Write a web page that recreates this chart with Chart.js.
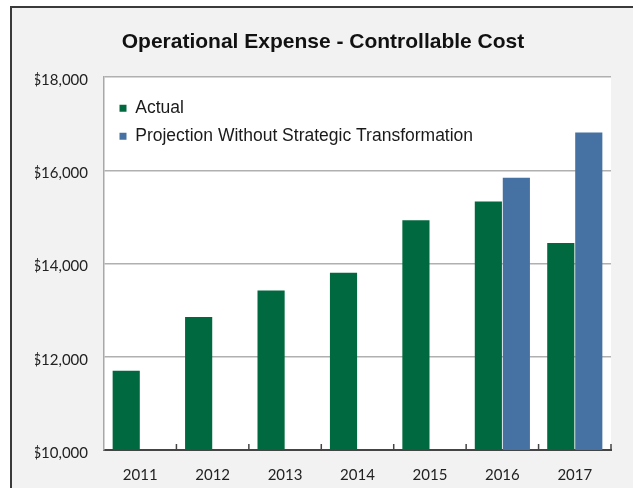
<!DOCTYPE html>
<html><head><meta charset="utf-8">
<script src="https://cdn.jsdelivr.net/npm/chart.js@4/dist/chart.umd.min.js"></script>
<style>
html,body{margin:0;padding:0;background:#fff;}
#frame{position:absolute;left:10px;top:6px;width:623px;height:482px;background:#f2f2f2;border-left:2px solid #3a3a3a;border-top:2px solid #3a3a3a;box-sizing:border-box;}
#wrap{position:absolute;left:0;top:0;width:633px;height:488px;}
</style></head><body>
<div id="frame"></div>
<div id="wrap"><canvas id="c" width="633" height="488"></canvas></div>
<script>
const categories = ['2011','2012','2013','2014','2015','2016','2017'];
const actual = [11700, 12850, 13420, 13800, 14930, 15330, 14440];
const projection = [null, null, null, null, null, 15840, 16810];
const yTicks = [10000, 12000, 14000, 16000, 18000];
const titleText = 'Operational Expense - Controllable Cost';
const seriesNames = ['Actual', 'Projection Without Strategic Transformation'];

const plotBg = {
  id: 'plotBg',
  beforeDraw(chart) {
    const {ctx, chartArea: a} = chart;
    ctx.save(); ctx.fillStyle = '#ffffff';
    ctx.fillRect(a.left, a.top, a.width, a.height);
    ctx.restore();
  }
};
const legendShift = {
  id: 'legendShift',
  afterLayout(chart) {
    const l = chart.legend, a = chart.chartArea;
    if (l) {
      const w = l.width, h = l.height;
      l.left = a.left + 5; l.right = l.left + w;
      l.top = a.top + 12; l.bottom = l.top + h;
    }
  }
};
const innerTicks = {
  id: 'innerTicks',
  afterDraw(chart) {
    const xs = chart.scales.x, ctx = chart.ctx;
    const half = (xs.getPixelForValue(1) - xs.getPixelForValue(0)) / 2;
    ctx.save(); ctx.strokeStyle = '#444'; ctx.lineWidth = 1.5;
    for (let i = 1; i <= categories.length; i++) {
      const x = xs.getPixelForValue(i - 1) + half;
      ctx.beginPath(); ctx.moveTo(x, xs.top); ctx.lineTo(x, xs.top - 6); ctx.stroke();
    }
    ctx.restore();
  }
};

Chart.defaults.font.family = 'Lato';
new Chart(document.getElementById('c'), {
  type: 'bar',
  data: {
    labels: categories,
    datasets: [
      { label: seriesNames[0], data: actual, backgroundColor: '#00693f', borderWidth: 0,
        categoryPercentage: 0.773, barPercentage: 0.97 },
      { label: seriesNames[1], data: projection, backgroundColor: '#4572a2', borderWidth: 0,
        categoryPercentage: 0.773, barPercentage: 0.97 }
    ]
  },
  options: {
    responsive: false,
    animation: false,
    devicePixelRatio: 1,
    layout: { padding: { left: 35, right: 22, top: 0, bottom: 0 } },
    plugins: {
      title: {
        display: true, text: titleText, color: '#111',
        font: { family: 'Liberation Sans', size: 21, weight: 'bold' },
        padding: { top: 30, bottom: 21.8 }
      },
      legend: {
        position: 'chartArea', align: 'start',
        labels: {
          boxWidth: 7, boxHeight: 7, padding: 10.5, color: '#1a1a1a',
          font: { family: 'Liberation Sans', size: 17.5 }
        }
      },
      tooltip: { enabled: false }
    },
    scales: {
      x: {
        grid: { display: false },
        border: { display: true, color: '#444', width: 2 },
        ticks: { color: '#222', padding: 8, font: { family: 'Lato', size: 15 } },
        afterFit(s) { s.height = 38; }
      },
      y: {
        min: 10000, max: 18000,
        afterBuildTicks(s) { s.ticks = yTicks.map(v => ({ value: v })); },
        grid: { color: '#b0b0b0', lineWidth: 1.5, drawTicks: false },
        border: { display: true, color: '#a8a8a8', width: 1.5 },
        ticks: {
          color: '#222', padding: 16, labelOffset: 3, font: { family: 'Lato', size: 15 },
          callback: v => '$' + Number(v).toLocaleString('en-US')
        },
        afterFit(s) { s.width = 69; }
      }
    }
  },
  plugins: [plotBg, legendShift, innerTicks]
});
</script>
</body></html>
